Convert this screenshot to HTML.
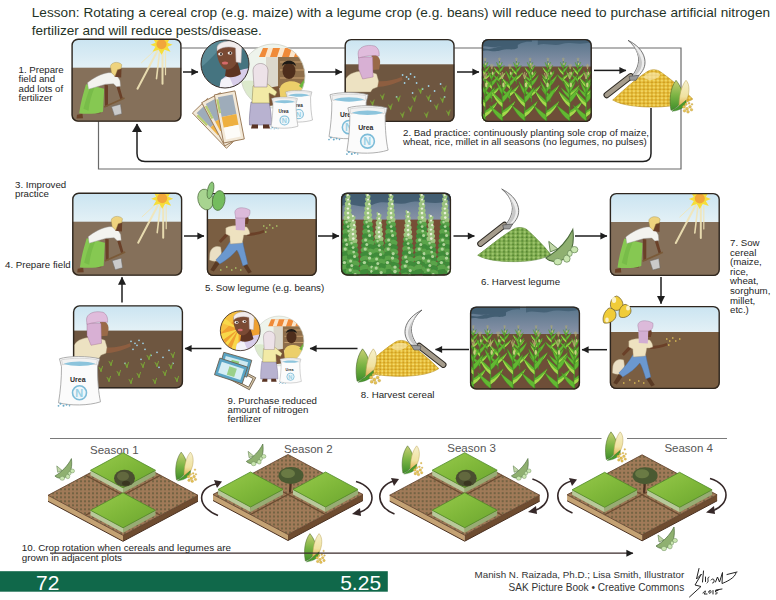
<!DOCTYPE html>
<html><head><meta charset="utf-8">
<style>
html,body{margin:0;padding:0;background:#fff;}
body{width:776px;height:600px;overflow:hidden;position:relative;}
svg{position:absolute;left:0;top:0;}
text{font-family:"Liberation Sans",sans-serif;}
</style></head>
<body>
<svg width="776" height="600" viewBox="0 0 776 600">
<defs>
  <linearGradient id="skyL" x1="0" y1="0" x2="0" y2="1"><stop offset="0" stop-color="#cae4f1"/><stop offset="1" stop-color="#e4f1f6"/></linearGradient>
  <linearGradient id="skyS" x1="0" y1="0" x2="0" y2="1"><stop offset="0" stop-color="#56748a"/><stop offset="1" stop-color="#8a93a8"/></linearGradient>
  <clipPath id="pc"><rect x="0" y="0" width="110" height="83" rx="6"/></clipPath>

  <!-- farmer hoeing with sun -->
  <symbol id="hoe" viewBox="0 0 110 83" width="110" height="83" overflow="visible">
    <g clip-path="url(#pc)">
      <rect width="110" height="30" fill="url(#skyL)"/>
      <rect y="29" width="110" height="54" fill="#85705a"/>
      <g stroke="#f2e6b8" stroke-linecap="round" opacity="0.9">
        <path d="M86 12 L66 50" stroke-width="2"/>
        <path d="M88 14 L85 40" stroke-width="1.6"/>
        <path d="M91 14 L91 45" stroke-width="2"/>
        <path d="M94 13 L94 36" stroke-width="1.2"/>
        <path d="M84 11 L70 24" stroke-width="1"/>
      </g>
      <polygon points="90,-4 93,1 99,-1 96,4 101,6 96,8 99,13 93,11 90,16 87,11 81,13 84,8 79,6 84,4 81,-1 87,1" fill="#f6de3a"/>
      <circle cx="90" cy="5.5" r="5" fill="#f2a63a"/>
      <!-- woman -->
      <path d="M5.5 76 L11 75 L11.5 79.5 L5 79.8Z M23.6 72 L29.3 71.7 L29 74.5 L24 74.5Z" fill="#6a4228"/>
      <path d="M14.5 45.5 L32.7 50 L31.5 73 C24 75.5 14 75.5 7.7 74.5 C9 64 12 54 14.5 45.5Z" fill="#86c852"/>
      <path d="M12 70 C14 62 16 55 19 48 L23 49 C20 56 18 63 17 72Z" fill="#6ab040" opacity="0.5"/>
      <path d="M33 46 L36.5 46.5 L36.5 67.5 L33.5 67.5Z M44.5 46.5 L47.5 46 L51.5 60 L49 61Z" fill="#6a4028"/>
      <path d="M16 44 C22 39 30 35 37 34 C42 33.5 46 36 48.5 42 L49 47.5 L45 48 L42 45 L34 45.5 L17 50.5 Z" fill="#f3f3ef" stroke="#9a9a9a" stroke-width="0.4"/>
      <path d="M45 29.8 L50 30 L49.7 38.9 L43 38Z" fill="#6a4028"/>
      <path d="M39 28 C39 23.5 47 22 50.3 26 L49.5 30 L46 31 L43.5 37.5 L40 34Z" fill="#eed37e" stroke="#a08a4a" stroke-width="0.4"/>
      <path d="M32.7 68.3 L53 59.3" stroke="#7a5a38" stroke-width="1.8"/>
      <path d="M40 68 L49 65.5 L50.3 75 L43 77 Z" fill="#cacaca" stroke="#6a6a6a" stroke-width="0.5"/>
    </g>
    <rect x="0.6" y="0.6" width="108.8" height="81.8" rx="6" fill="none" stroke="#2e261e" stroke-width="1.4"/>
  </symbol>

  <!-- maize field stormy -->
  <symbol id="mp" overflow="visible">
    <path d="M0 0 L0 -46" stroke="#4a8a2a" stroke-width="1.4"/>
    <path d="M0 -4 C-6 -8 -10 -14 -13 -20 C-8 -16 -3 -12 0 -10Z M0 -8 C6 -12 10 -18 13 -24 C8 -20 3 -16 0 -14Z M0 -18 C-5 -22 -9 -28 -11 -34 C-6 -30 -2 -26 0 -24Z M0 -22 C5 -26 8 -32 10 -38 C6 -34 2 -30 0 -28Z M0 -30 C-3 -34 -5 -40 -6 -44 C-3 -40 -1 -37 0 -35Z M0 -32 C3 -36 5 -40 6 -44 C3 -41 1 -38 0 -36Z" fill="#62b832" stroke="#3f8a22" stroke-width="0.4"/>
    <path d="M0 -8 C6 -12 10 -18 13 -24 C9 -18 5 -14 0 -12Z M0 -18 C-5 -22 -9 -28 -11 -34 C-7 -28 -4 -24 0 -22Z" fill="#a6d84c"/>
    <ellipse cx="1.2" cy="-40" rx="1.2" ry="2.4" fill="#c8d080"/>
    <path d="M0 -46 L-2 -52 M0 -46 L2 -52 M0 -46 L0 -53" stroke="#b8b070" stroke-width="0.8"/>
  </symbol>
  <symbol id="maize" viewBox="0 0 110 83" width="110" height="83" overflow="visible">
    <g clip-path="url(#pc)">
      <rect width="110" height="28" fill="url(#skyS)"/>
      <path d="M0 8 C4 6 8 9 14 8 C20 6 26 10 32 8 C38 5 42 2 50 3 L50 0 L0 0Z M0 12 C6 10 12 14 20 11 C26 9 30 12 36 9 L36 6 C28 8 20 6 12 9 C6 11 2 9 0 9Z" fill="#3c586c" opacity="0.85"/>
      <path d="M56 6 C64 3 72 8 80 5 C88 2 96 7 110 3 L110 0 L56 0Z" fill="#3c586c" opacity="0.7"/>
      <rect y="27.5" width="110" height="56" fill="#6e4e38"/>
      <use href="#mp" transform="translate(3.3,45) scale(0.5)"/>
      <use href="#mp" transform="translate(17.6,45) scale(0.5)"/>
      <use href="#mp" transform="translate(34.6,45) scale(0.5)"/>
      <use href="#mp" transform="translate(48.3,45) scale(0.5)"/>
      <use href="#mp" transform="translate(66.1,45) scale(0.5)"/>
      <use href="#mp" transform="translate(81.5,45) scale(0.5)"/>
      <use href="#mp" transform="translate(96.2,45) scale(0.5)"/>
      <use href="#mp" transform="translate(10.0,63) scale(0.72)"/>
      <use href="#mp" transform="translate(28.1,63) scale(0.72)"/>
      <use href="#mp" transform="translate(49.7,63) scale(0.72)"/>
      <use href="#mp" transform="translate(68.3,63) scale(0.72)"/>
      <use href="#mp" transform="translate(88.4,63) scale(0.72)"/>
      <use href="#mp" transform="translate(105.7,63) scale(0.72)"/>
      <use href="#mp" transform="translate(3.3,86) scale(1.0)"/>
      <use href="#mp" transform="translate(20.5,86) scale(1.0)"/>
      <use href="#mp" transform="translate(42.9,86) scale(1.0)"/>
      <use href="#mp" transform="translate(64.5,86) scale(1.0)"/>
      <use href="#mp" transform="translate(87.8,86) scale(1.0)"/>
      <use href="#mp" transform="translate(104.3,86) scale(1.0)"/>
    </g>
    <rect x="0.6" y="0.6" width="108.8" height="81.8" rx="6" fill="none" stroke="#2e261e" stroke-width="1.4"/>
  </symbol>

  <!-- fertilizer throwing -->
  <symbol id="fert" viewBox="0 0 110 83" width="110" height="83" overflow="visible">
    <g clip-path="url(#pc)">
      <rect width="110" height="26" fill="url(#skyL)"/>
      <rect y="25.3" width="110" height="58" fill="#6e5640"/>
      <g fill="#9fd0e4"><circle cx="58" cy="36" r="0.9"/><circle cx="62" cy="38" r="0.9"/><circle cx="66" cy="35" r="0.9"/><circle cx="60" cy="44" r="0.9"/><circle cx="72" cy="44" r="0.9"/><circle cx="78" cy="50" r="0.9"/><circle cx="68" cy="54" r="0.9"/><circle cx="84" cy="47" r="0.9"/><circle cx="90" cy="52" r="0.9"/><circle cx="96" cy="45" r="0.9"/><circle cx="52" cy="58" r="0.9"/><circle cx="86" cy="62" r="0.9"/><circle cx="100" cy="58" r="0.9"/><circle cx="64" cy="40" r="0.9"/><circle cx="70" cy="38" r="0.9"/></g>
      <path d="M38 60 L36 56 M38 60 L39.5 55 M38 60 v-3 M54 62 L52 58 M54 62 L55.5 57 M54 62 v-3 M70 62 L68 58 M70 62 L71.5 57 M70 62 v-3 M84 61 L82 57 M84 61 L85.5 56 M84 61 v-3 M98 63 L96 59 M98 63 L99.5 58 M98 63 v-3 M36 76 L34 72 M36 76 L37.5 71 M36 76 v-3 M58 78 L56 74 M58 78 L59.5 73 M58 78 v-3 M82 78 L80 74 M82 78 L83.5 73 M82 78 v-3 M104 76 L102 72 M104 76 L105.5 71 M104 76 v-3 M46 70 L44 66 M46 70 L47.5 65 M46 70 v-3 M92 70 L90 66 M92 70 L93.5 65 M92 70 v-3 M28 66 L26 62 M28 66 L29.5 61 M28 66 v-3 M66 72 L64 68 M66 72 L67.5 67 M66 72 v-3 M76 54 L74 50 M76 54 L77.5 49 M76 54 v-3 M100 52 L98 48 M100 52 L101.5 47 M100 52 v-3" stroke="#7aa836" stroke-width="0.9" stroke-linecap="round" fill="none"/>
      <path d="M32 42 C40 43 50 41 57 38 L58 41 C50 45 40 48 32 48Z" fill="#8e5e40"/>
      <path d="M1 40 C4 34 12 32 22 31.5 L32 35 L34 42 L33 48 L28 50 L26 53 L1 53Z" fill="#ede2c2" stroke="#a09070" stroke-width="0.4"/>
      <path d="M27 16 C31 14 36 18 35.5 24 L34.5 30.5 L27 31Z" fill="#9a6a48"/>
      <path d="M14 18 L28 18 L28.5 38 L18 40 L14 30Z" fill="#d8b0d4" stroke="#9a6a8a" stroke-width="0.4"/>
      <path d="M13.5 15 C13 8 22 5 30 7 C34 9 35 13 34.5 17 C28 16 20 17 14 19Z" fill="#e0bcdc" stroke="#9a6a8a" stroke-width="0.4"/>
    </g>
    <rect x="0.6" y="0.6" width="108.8" height="81.8" rx="6" fill="none" stroke="#2e261e" stroke-width="1.4"/>
  </symbol>

  <!-- sower walking -->
  <symbol id="sow" viewBox="0 0 110 83" width="110" height="83" overflow="visible">
    <g clip-path="url(#pc)">
      <rect width="110" height="27" fill="url(#skyL)"/>
      <rect y="26" width="110" height="57" fill="#7a5e42"/>
      <path d="M3 60 C4 55 9 52 14 54 L15.5 66 C12 69 6 69 2.5 67 Z" fill="#eadfc4" stroke="#9a8a6a" stroke-width="0.4"/>
      <path d="M9 68 L12.5 71 L7 78.5 L3.5 77Z M36 72 L40 71 L45 79 L41.5 80.5Z" fill="#5a3a24"/>
      <path d="M23 49 L36 49 C37 55 39 62 41 71 L36 73 C34 66 32 60 30 57 C26 62 20 67 13 71 L9 67 C14 62 19 56 23 49Z" fill="#6b98cf" stroke="#4a6a9a" stroke-width="0.4"/>
      <path d="M20 39 L12 48 L14 50 L22 42 Z" fill="#6a4028"/>
      <path d="M40 40 C46 40 52 39 57 37 L57.5 39.5 C52 41.5 46 43 40 43 Z" fill="#6a4028"/>
      <path d="M19 35 C22 33 28 32 33 33 L40 34 C42 36 43 39 43 41 L40 42 L37 42 L35.5 50 L23.5 51 L23 43 L19 41 Z" fill="#eee2c0" stroke="#a8987a" stroke-width="0.4"/>
      <path d="M37 21 C40 21 42 24 42 27 L41 31 L37 31 Z" fill="#6a4028"/>
      <path d="M28.5 24 L38.5 24 L38 37.5 L29 37 Z" fill="#d2aed2"/>
      <path d="M28 19.5 C28 14.5 36 13 43 17 C44 21 42 25 38 25 L29 25 Z" fill="#dcbada" stroke="#9a7a9a" stroke-width="0.4"/>
      <g style="fill:var(--seed,#b8e070)"><circle cx="57" cy="33" r="0.8"/><circle cx="60" cy="35" r="0.8"/><circle cx="63" cy="32" r="0.8"/><circle cx="66" cy="35" r="0.8"/><circle cx="70" cy="33" r="0.8"/><circle cx="59" cy="39" r="0.8"/><circle cx="20" cy="74" r="0.8"/><circle cx="25" cy="77" r="0.8"/><circle cx="29" cy="75" r="0.8"/><circle cx="34" cy="77" r="0.8"/><circle cx="14" cy="77" r="0.8"/></g>
    </g>
    </g>
    <rect x="0.6" y="0.6" width="108.8" height="81.8" rx="6" fill="none" stroke="#2e261e" stroke-width="1.4"/>
  </symbol>

  <!-- bean field -->
  <symbol id="bp" overflow="visible"><ellipse cx="-1.0" cy="0.0" rx="1.2" ry="2.8" fill="#9cc47e" transform="rotate(-20 -1.0 0.0)"/><ellipse cx="1.0" cy="2.0" rx="1.2" ry="2.8" fill="#9cc47e" transform="rotate(20 1.0 2.0)"/><circle cx="-0.1" cy="-0.5" r="1.1" fill="#e8f0d8"/><ellipse cx="-1.2" cy="4.5" rx="1.4" ry="2.8" fill="#9cc47e" transform="rotate(-20 -1.2 4.5)"/><ellipse cx="1.2" cy="6.5" rx="1.4" ry="2.8" fill="#9cc47e" transform="rotate(20 1.2 6.5)"/><circle cx="0.1" cy="4.0" r="1.1" fill="#e8f0d8"/><ellipse cx="-1.4" cy="9.0" rx="1.7" ry="2.8" fill="#9cc47e" transform="rotate(-20 -1.4 9.0)"/><ellipse cx="1.4" cy="11.0" rx="1.7" ry="2.8" fill="#9cc47e" transform="rotate(20 1.4 11.0)"/><circle cx="1.2" cy="8.5" r="1.2" fill="#e8f0d8"/><ellipse cx="-1.6" cy="13.5" rx="1.9" ry="2.8" fill="#9cc47e" transform="rotate(-20 -1.6 13.5)"/><ellipse cx="1.6" cy="15.5" rx="1.9" ry="2.8" fill="#9cc47e" transform="rotate(20 1.6 15.5)"/><circle cx="-0.1" cy="13.0" r="1.2" fill="#e8f0d8"/><ellipse cx="-1.8" cy="18.0" rx="2.1" ry="2.8" fill="#9cc47e" transform="rotate(-20 -1.8 18.0)"/><ellipse cx="1.8" cy="20.0" rx="2.1" ry="2.8" fill="#9cc47e" transform="rotate(20 1.8 20.0)"/><circle cx="0.0" cy="17.5" r="1.3" fill="#e8f0d8"/><ellipse cx="-2.0" cy="22.5" rx="2.4" ry="2.8" fill="#9cc47e" transform="rotate(-20 -2.0 22.5)"/><ellipse cx="2.0" cy="24.5" rx="2.4" ry="2.8" fill="#9cc47e" transform="rotate(20 2.0 24.5)"/><circle cx="0.3" cy="22.0" r="1.3" fill="#e8f0d8"/><ellipse cx="-2.2" cy="27.0" rx="2.6" ry="2.8" fill="#5aa44a" transform="rotate(-20 -2.2 27.0)"/><ellipse cx="2.2" cy="29.0" rx="2.6" ry="2.8" fill="#5aa44a" transform="rotate(20 2.2 29.0)"/><circle cx="-1.4" cy="26.5" r="1.3" fill="#b0d49a"/><ellipse cx="-2.4" cy="31.5" rx="2.9" ry="2.8" fill="#3f8c3a" transform="rotate(-20 -2.4 31.5)"/><ellipse cx="2.4" cy="33.5" rx="2.9" ry="2.8" fill="#3f8c3a" transform="rotate(20 2.4 33.5)"/><circle cx="0.1" cy="31.0" r="1.4" fill="#b0d49a"/><ellipse cx="-2.6" cy="36.0" rx="3.1" ry="2.8" fill="#5aa44a" transform="rotate(-20 -2.6 36.0)"/><ellipse cx="2.6" cy="38.0" rx="3.1" ry="2.8" fill="#5aa44a" transform="rotate(20 2.6 38.0)"/><circle cx="0.7" cy="35.5" r="1.4" fill="#b0d49a"/><ellipse cx="-2.8" cy="40.5" rx="3.3" ry="2.8" fill="#3f8c3a" transform="rotate(-20 -2.8 40.5)"/><ellipse cx="2.8" cy="42.5" rx="3.3" ry="2.8" fill="#3f8c3a" transform="rotate(20 2.8 42.5)"/><circle cx="1.6" cy="40.0" r="1.5" fill="#b0d49a"/><ellipse cx="-3.0" cy="45.0" rx="3.6" ry="2.8" fill="#5aa44a" transform="rotate(-20 -3.0 45.0)"/><ellipse cx="3.0" cy="47.0" rx="3.6" ry="2.8" fill="#5aa44a" transform="rotate(20 3.0 47.0)"/><circle cx="-2.4" cy="44.5" r="1.5" fill="#b0d49a"/><ellipse cx="-3.2" cy="49.5" rx="3.8" ry="2.8" fill="#3f8c3a" transform="rotate(-20 -3.2 49.5)"/><ellipse cx="3.2" cy="51.5" rx="3.8" ry="2.8" fill="#3f8c3a" transform="rotate(20 3.2 51.5)"/><circle cx="-1.2" cy="49.0" r="1.5" fill="#b0d49a"/><ellipse cx="-3.4" cy="54.0" rx="4.0" ry="2.8" fill="#5aa44a" transform="rotate(-20 -3.4 54.0)"/><ellipse cx="3.4" cy="56.0" rx="4.0" ry="2.8" fill="#5aa44a" transform="rotate(20 3.4 56.0)"/><circle cx="-2.8" cy="53.5" r="1.6" fill="#b0d49a"/><ellipse cx="-3.6" cy="58.5" rx="4.3" ry="2.8" fill="#3f8c3a" transform="rotate(-20 -3.6 58.5)"/><ellipse cx="3.6" cy="60.5" rx="4.3" ry="2.8" fill="#3f8c3a" transform="rotate(20 3.6 60.5)"/><circle cx="2.2" cy="58.0" r="1.6" fill="#b0d49a"/><ellipse cx="-3.8" cy="63.0" rx="4.5" ry="2.8" fill="#5aa44a" transform="rotate(-20 -3.8 63.0)"/><ellipse cx="3.8" cy="65.0" rx="4.5" ry="2.8" fill="#5aa44a" transform="rotate(20 3.8 65.0)"/><circle cx="1.5" cy="62.5" r="1.7" fill="#b0d49a"/><ellipse cx="-4.0" cy="67.5" rx="4.7" ry="2.8" fill="#3f8c3a" transform="rotate(-20 -4.0 67.5)"/><ellipse cx="4.0" cy="69.5" rx="4.7" ry="2.8" fill="#3f8c3a" transform="rotate(20 4.0 69.5)"/><circle cx="-3.6" cy="67.0" r="1.7" fill="#b0d49a"/><ellipse cx="-4.2" cy="72.0" rx="5.0" ry="2.8" fill="#5aa44a" transform="rotate(-20 -4.2 72.0)"/><ellipse cx="4.2" cy="74.0" rx="5.0" ry="2.8" fill="#5aa44a" transform="rotate(20 4.2 74.0)"/><circle cx="4.0" cy="71.5" r="1.7" fill="#b0d49a"/><ellipse cx="-4.3" cy="76.5" rx="5.2" ry="2.8" fill="#3f8c3a" transform="rotate(-20 -4.3 76.5)"/><ellipse cx="4.3" cy="78.5" rx="5.2" ry="2.8" fill="#3f8c3a" transform="rotate(20 4.3 78.5)"/><circle cx="4.0" cy="76.0" r="1.8" fill="#b0d49a"/></symbol>
  <symbol id="beans" viewBox="0 0 110 83" width="110" height="83" overflow="visible">
    <g clip-path="url(#pc)">
      <rect width="110" height="28" fill="url(#skyS)"/>
      <path d="M0 14 C10 8 20 18 32 12 C44 6 56 14 68 10 C80 6 90 14 110 8 L110 0 L0 0Z" fill="#3c586c" opacity="0.8"/>
      <rect y="27" width="110" height="56" fill="#774e36"/>
      <use href="#bp" x="7" y="3"/>
      <use href="#bp" x="27" y="3"/>
      <use href="#bp" x="50" y="3"/>
      <use href="#bp" x="81" y="3"/>
      <use href="#bp" x="104" y="3"/>
      <use href="#bp" x="12" y="24"/>
      <use href="#bp" x="38" y="22"/>
      <use href="#bp" x="67" y="20"/>
      <use href="#bp" x="90" y="24"/>
    </g>
    <rect x="0.6" y="0.6" width="108.8" height="81.8" rx="6" fill="none" stroke="#2e261e" stroke-width="1.4"/>
  </symbol>

  <pattern id="dots" width="4" height="4" patternUnits="userSpaceOnUse"><circle cx="2" cy="2" r="0.9" fill="#5e5838"/></pattern>
  <linearGradient id="grn" x1="0" y1="0" x2="1" y2="1"><stop offset="0" stop-color="#98ca4c"/><stop offset="0.5" stop-color="#80b83a"/><stop offset="1" stop-color="#6aa42e"/></linearGradient>

  <symbol id="bag" viewBox="0 0 42 52" width="42" height="52" overflow="visible">
    <path d="M1 4 C10 1 30 1 41 4 L39 12 C39 26 40 38 42 47 C30 51 12 51 0 48 C2 36 3 24 3 12 Z" fill="#fbfbfb" stroke="#9a9a9a" stroke-width="0.8"/>
    <path d="M3 5 C12 3 30 3 39 5 L38 10 C28 8 14 8 4 10Z" fill="#f2f2f2" stroke="#aaa" stroke-width="0.4"/>
    <path d="M5 9 C14 6 28 6 37 9 C28 12 14 12 5 9Z" fill="#8cc4dc"/>
    <text x="11.5" y="27" font-size="7" font-weight="bold" fill="#2a2a2a">Urea</text>
    <circle cx="21" cy="38" r="7" fill="#eef6fa" stroke="#7cbcd8" stroke-width="1.6"/>
    <text x="16.8" y="42" font-size="11" font-weight="bold" fill="#9ad0e4">N</text>
    <g fill="#6aaac8"><circle cx="2" cy="49" r="1"/><circle cx="5" cy="51" r="1"/><circle cx="8" cy="50" r="0.9"/><circle cx="0" cy="51" r="0.9"/><circle cx="11" cy="51" r="0.8"/></g>
  </symbol>
  <symbol id="sickle" viewBox="0 0 45 58" width="45" height="58" overflow="visible">
    <path d="M3.7 54.7 L27.7 36" stroke="#2e2a24" stroke-width="6.4" stroke-linecap="round"/>
    <path d="M3.7 54.7 L27.7 36" stroke="#a59c8c" stroke-width="4.4" stroke-linecap="round"/>
    <path d="M25 0 C33 4 40 10 41.7 18.7 C43 26 40 31 35 36 L29 36 C33 30 35.5 26 35.7 18.7 C35 11 31 5 25 0Z" fill="#ededed" stroke="#555" stroke-width="0.8"/>
    <path d="M28 3 C34 9 38 15 39 22 C39 28 36 32 33 35 L30 35 C34 30 36 26 36 19 C35 12 32 7 28 3Z" fill="#c8c8c8"/>
    <path d="M26 36 L36 35 L33 40 L27 40Z" fill="#9a9a9a" stroke="#444" stroke-width="0.6"/>
  </symbol>
  <linearGradient id="husk" x1="0" y1="0" x2="0" y2="1"><stop offset="0" stop-color="#c9cf74"/><stop offset="0.5" stop-color="#7cb444"/><stop offset="1" stop-color="#3e8e2a"/></linearGradient>
  <linearGradient id="cob" x1="0" y1="0" x2="0" y2="1"><stop offset="0" stop-color="#f6f0cc"/><stop offset="0.6" stop-color="#f0e2a0"/><stop offset="1" stop-color="#e0a848"/></linearGradient>
  <symbol id="corn" viewBox="0 0 26 34" width="26" height="34" overflow="visible">
    <path d="M7 2 C12 8 15 16 13 23 C10 27 6 31 2 32 C0 22 1 10 7 2Z" fill="url(#husk)" stroke="#4a6a2a" stroke-width="0.6"/>
    <path d="M17 2 C21 6 21 15 17 23 L10 29 C10 18 12 8 17 2Z" fill="url(#cob)" stroke="#b8a050" stroke-width="0.5"/>
    <path d="M11 27 L17 22 C18 28 12 32 3 33 C6 30 9 29 11 27Z" fill="#4a9a2e" stroke="#2e6a1e" stroke-width="0.4"/>
    <g fill="#e4c254" stroke="#b89030" stroke-width="0.3"><circle cx="15" cy="28.5" r="1.5"/><circle cx="18" cy="30.5" r="1.5"/><circle cx="21" cy="28.5" r="1.4"/><circle cx="15.5" cy="32.5" r="1.4"/><circle cx="19" cy="33.5" r="1.4"/><circle cx="22.5" cy="31.5" r="1.3"/><circle cx="20" cy="25" r="1"/><circle cx="22" cy="21" r="0.9"/><circle cx="23" cy="26" r="0.9"/><circle cx="17" cy="26" r="1.2"/></g>
  </symbol>
  <symbol id="bean" viewBox="0 0 22 24" width="22" height="24" overflow="visible">
    <path d="M2 8 L3 15 L8 13Z" fill="#c2d8a8" stroke="#5a7a48" stroke-width="0.6"/>
    <path d="M0 19 C7 15 14 8 18 0 C19 8 18 16 12 20 C8 22 3 22 0 19Z" fill="#8fb070" stroke="#4a6a3a" stroke-width="0.7"/>
    <g fill="#c9e6b0" stroke="#6a8a58" stroke-width="0.5"><ellipse cx="8" cy="21.5" rx="2.6" ry="2.2"/><ellipse cx="14" cy="19.5" rx="2.2" ry="2.4"/><ellipse cx="19" cy="13.5" rx="2.4" ry="2.1"/><ellipse cx="16" cy="16" rx="1.6" ry="2"/></g>
  </symbol>
  <pattern id="kern" width="4" height="3.5" patternUnits="userSpaceOnUse"><circle cx="1.2" cy="1.2" r="1" fill="#f8e27a"/><circle cx="3.2" cy="2.9" r="0.9" fill="#c8961e"/></pattern>
  <pattern id="leg" width="5" height="4" patternUnits="userSpaceOnUse"><circle cx="1.5" cy="1.5" r="1.2" fill="#a6cc76"/><circle cx="3.8" cy="3.2" r="1" fill="#4e7e2e"/></pattern>
  <symbol id="pileY" viewBox="0 0 80 38" width="80" height="38" overflow="visible">
    <path d="M0 31 C8 24 20 12 34 3 C38 0 44 0 48 3 C58 10 70 20 80 30 C70 37 50 38 40 38 C28 38 10 37 0 31Z" fill="#e4b934" stroke="#b08a1e" stroke-width="0.6"/>
    <path d="M0 31 C8 24 20 12 34 3 C38 0 44 0 48 3 C58 10 70 20 80 30 C70 37 50 38 40 38 C28 38 10 37 0 31Z" fill="url(#kern)"/>
    <path d="M30 8 C36 2 44 2 48 6 C44 10 38 14 30 8Z" fill="#f6e6a8" opacity="0.7"/>
  </symbol>
  <symbol id="pileG" viewBox="0 0 80 38" width="80" height="38" overflow="visible">
    <path d="M0 31 C10 24 26 10 40 2 C44 0 50 0 54 3 C62 10 72 20 80 30 C70 37 50 38 40 38 C28 38 10 37 0 31Z" fill="#7aa84a" stroke="#4f7a2c" stroke-width="0.6"/>
    <path d="M0 31 C10 24 26 10 40 2 C44 0 50 0 54 3 C62 10 72 20 80 30 C70 37 50 38 40 38 C28 38 10 37 0 31Z" fill="url(#leg)"/>
  </symbol>

  <symbol id="moneyB" viewBox="0 0 40 34" width="40" height="34" overflow="visible">
    <g stroke="#6a5a48" stroke-width="0.8">
      <g transform="translate(14,14) rotate(28)"><rect x="0" y="0" width="26" height="14" fill="#d8c8a8"/><rect x="2" y="2" width="22" height="10" fill="#fff"/></g>
      <g transform="translate(4,0) rotate(16)"><rect x="0" y="0" width="30" height="18" fill="#5aa4c4"/><rect x="3" y="3" width="24" height="12" fill="#cde8f0" stroke="none"/><rect x="10" y="5" width="8" height="9" fill="#8ccc7a" stroke="none"/></g>
      <g transform="translate(0,6) rotate(18)"><rect x="0" y="0" width="30" height="18" fill="#5aa4c4"/><rect x="3" y="3" width="24" height="12" fill="#d6eef4" stroke="none"/><rect x="12" y="5" width="8" height="9" fill="#9ad08a" stroke="none"/></g>
    </g>
  </symbol>
  <clipPath id="cc"><circle cx="0" cy="0" r="24"/></clipPath>
  <symbol id="portrait" viewBox="-25 -25 50 50" width="50" height="50" overflow="visible">
    <g clip-path="url(#cc)">
      <rect x="-25" y="-25" width="50" height="50" style="fill:var(--bg,#457480)"/>
      <path d="M-25 -25 L6 -25 C-6 -16 -14 -4 -25 4Z" style="fill:var(--bg2,#5a8a96)"/>
      <g style="opacity:var(--rays,0)" fill="#f8d84a"><path d="M-2 -2 L-25 -20 L-25 -10Z M-2 -2 L-25 4 L-25 14Z M-2 -2 L-12 25 L-2 25Z M-2 -2 L-25 22 L-20 25Z M-2 -2 L18 -25 L25 -25 L25 -18Z"/></g>
      <path d="M-4 16 C2 10 12 6 26 4 L26 26 L-6 26Z" fill="#d8cdea"/>
      <path d="M-4 16 L4 12 L10 26 L-6 26Z" fill="#f4f2f8"/>
      <path d="M2 -2 L12 -4 L16 10 C10 14 4 14 0 12Z" fill="#5e3422"/>
      <path d="M-8 -16 C-6 -22 10 -22 12 -16 L12 -2 C8 6 2 7 -2 4 C-6 0 -9 -8 -8 -16Z" fill="#7a4a34"/>
      <ellipse cx="-4.5" cy="-10" rx="2.4" ry="1.6" fill="#f4f0ec"/><ellipse cx="5" cy="-11" rx="2.4" ry="1.6" fill="#f4f0ec"/>
      <circle cx="-4" cy="-10" r="1" fill="#201410"/><circle cx="5.5" cy="-11" r="1" fill="#201410"/>
      <ellipse cx="0" cy="-1" rx="3" ry="1.5" fill="#d46a6a"/>
      <path d="M-8 -17 C-6 -24 12 -25 17 -19 L16 -1 L11 -2 L10.5 -16 C4 -18 -4 -17 -8 -13Z" fill="#f2ecec" stroke="#a89a9a" stroke-width="0.5"/>
    </g>
    <circle cx="0" cy="0" r="24" fill="none" stroke="#3a2e2a" stroke-width="1"/>
  </symbol>
  <clipPath id="cs"><circle cx="0" cy="0" r="32"/></clipPath>
  <symbol id="shop" viewBox="-34 -34 68 90" width="68" height="90" overflow="visible">
    <g clip-path="url(#cs)">
      <rect x="-34" y="-34" width="68" height="68" fill="#eef4ec"/>
      <path d="M-34 6 C-22 2 -12 6 -4 12 L-4 34 L-34 34Z" fill="#dceacc"/>
      <rect x="-7" y="-20" width="41" height="50" fill="#dcd8cc"/>
      <rect x="5" y="-19" width="30" height="31" fill="#8e6e4a"/>
      <path d="M7 -14 H34 M7 -6 H34 M7 2 H34" stroke="#c8a070" stroke-width="1.2"/>
      <path d="M-14 -19 L-10 -28 L30 -28 L30 -19Z" fill="#f08a38"/>
      <path d="M-8 -19 L-5 -28 L0 -28 L-3 -19Z M4 -19 L7 -28 L12 -28 L9 -19Z M16 -19 L19 -28 L24 -28 L21 -19Z" fill="#fbe6cc"/>
      <path d="M7 12 C9 4 24 3 29 10 L34 34 L4 34Z" fill="#eccf6a"/>
      <ellipse cx="16" cy="-5" rx="6.5" ry="8" fill="#4e2e1c"/>
      <path d="M9 -10 C10 -17 22 -17 23 -10 C20 -13 12 -13 9 -10Z" fill="#1e1a16"/>
      <path d="M26 10 L34 0 L34 16Z" fill="#6ab83a"/>
      <path d="M-6 12 L6 10 L8 28 L-4 30Z" fill="#7a5436"/>
    </g>
    <circle cx="0" cy="0" r="32" fill="none" stroke="#cfd2c8" stroke-width="0.8"/>
    <!-- standing woman -->
    <path d="M-22 26 C-23 34 -24 42 -23.5 49 L-1.5 49 C-1.5 42 -2 34 -4 26Z" fill="#b8b2d0" stroke="#6a6488" stroke-width="0.5"/>
    <path d="M-20 10 C-18 7 -8 6 -4 9 L4 16 L2 20 L-4 17 L-3.5 27 L-21 27Z" fill="#f2eaa6" stroke="#8a8050" stroke-width="0.5"/>
    <path d="M-20 -5 C-20 -15 -5 -15 -5 -5 L-6 11 L-19 11Z" fill="#ede2e8" stroke="#8a7a80" stroke-width="0.5"/>
    <path d="M-21 48.5 L-15 48.5 L-15 52.5 L-22 52.5Z M-10 48.5 L-4 48.5 L-3 52.5 L-10 52.5Z" fill="#5a3424"/>
  </symbol>

  <marker id="ah" refX="6.6" refY="3.5" markerWidth="7" markerHeight="7" markerUnits="userSpaceOnUse" orient="auto" overflow="visible"><path d="M0 0 L7 3.5 L0 7Z" fill="#1e1e1e"/></marker>
  <marker id="ahb" refX="8" refY="5" markerWidth="8.5" markerHeight="10" markerUnits="userSpaceOnUse" orient="auto" overflow="visible"><path d="M0 0 L8.5 5 L0 10Z" fill="#1e1e1e"/></marker>
  <marker id="ahv" refX="7.6" refY="4" markerWidth="8" markerHeight="8" markerUnits="userSpaceOnUse" orient="auto" overflow="visible"><path d="M0 0 L8 4 L0 8Z" fill="#1e1e1e"/></marker>
</defs>

<!-- Title -->
<text x="31.7" y="17.4" font-size="13.6" fill="#1f3326" textLength="738.4" lengthAdjust="spacing">Lesson: Rotating a cereal crop (e.g. maize) with a legume crop (e.g. beans) will reduce need to purchase artificial nitrogen</text>
<text x="31.7" y="35.2" font-size="13.6" fill="#1f3326" textLength="230.2" lengthAdjust="spacing">fertilizer and will reduce pests/disease.</text>

<!-- ROW 1 loop lines -->
<path d="M98.5 121 V169 H681 V48 H181" fill="none" stroke="#6a6a6a" stroke-width="1.2"/>
<path d="M651 108 V153.5 Q651 161.5 643 161.5 H145 Q137 161.5 137 153.5 V124" fill="none" stroke="#1e1e1e" stroke-width="1.5" marker-end="url(#ahb)"/>

<use href="#hoe" x="71.5" y="38.7"/>
<text font-size="9.7" fill="#1e1e1e"><tspan x="18.5" y="73">1. Prepare</tspan><tspan x="18.5" y="82.4">field and</tspan><tspan x="18.5" y="91.7">add lots of</tspan><tspan x="18.5" y="101">fertilizer</tspan></text>

<path d="M183 72 H198" stroke="#1e1e1e" stroke-width="1.5" marker-end="url(#ah)"/>
<path d="M308 72 H342" stroke="#1e1e1e" stroke-width="1.5" marker-end="url(#ah)"/>
<path d="M457 72 H479" stroke="#1e1e1e" stroke-width="1.5" marker-end="url(#ah)"/>
<path d="M594 70.4 H626" stroke="#1e1e1e" stroke-width="1.5" marker-end="url(#ah)"/>

<use href="#fert" x="344.6" y="39"/>
<use href="#maize" x="481.8" y="39"/>

<text font-size="9.75" fill="#1e1e1e"><tspan x="403" y="136">2. Bad practice: continuously planting sole crop of maize,</tspan><tspan x="403" y="145.4">wheat, rice, millet in all seasons (no legumes, no pulses)</tspan></text>

<!-- ROW 2 -->
<use href="#hoe" x="72.2" y="192.7"/>
<use href="#sow" x="206.8" y="193"/>
<use href="#beans" x="341" y="192.6"/>
<use href="#hoe" x="609.8" y="193"/>

<text font-size="9.7" fill="#1e1e1e"><tspan x="15" y="187.5">3. Improved</tspan><tspan x="15" y="197">practice</tspan></text>
<text font-size="9.7" fill="#1e1e1e" x="5" y="268.3">4. Prepare field</text>
<text font-size="9.75" fill="#1e1e1e" x="205" y="291">5. Sow legume (e.g. beans)</text>
<text font-size="9.75" fill="#1e1e1e" x="481" y="284.5">6. Harvest legume</text>
<text font-size="9.7" fill="#1e1e1e"><tspan x="730" y="246">7. Sow</tspan><tspan x="730" y="255.6">cereal</tspan><tspan x="730" y="265.2">(maize,</tspan><tspan x="730" y="274.8">rice,</tspan><tspan x="730" y="284.4">wheat,</tspan><tspan x="730" y="294">sorghum,</tspan><tspan x="730" y="303.6">millet,</tspan><tspan x="730" y="313.2">etc.)</tspan></text>

<path d="M184 236 H204" stroke="#1e1e1e" stroke-width="1.5" marker-end="url(#ah)"/>
<path d="M318 236 H339" stroke="#1e1e1e" stroke-width="1.5" marker-end="url(#ah)"/>
<path d="M453.5 236 H474.4" stroke="#1e1e1e" stroke-width="1.5" marker-end="url(#ah)"/>
<path d="M575 236 H607" stroke="#1e1e1e" stroke-width="1.5" marker-end="url(#ah)"/>
<path d="M661 277 V303.7" stroke="#1e1e1e" stroke-width="1.5" marker-end="url(#ahv)"/>
<path d="M122 302.5 V277.2" stroke="#1e1e1e" stroke-width="1.5" marker-end="url(#ahv)"/>

<!-- ROW 3 -->
<use href="#fert" x="73" y="305.3"/>
<use href="#maize" x="470" y="306.5"/>
<use href="#sow" x="609.8" y="306" style="--seed:#f2d45a"/>

<path d="M607 349.7 H582" stroke="#1e1e1e" stroke-width="1.5" marker-end="url(#ah)"/>
<path d="M469 349.6 H435.5" stroke="#1e1e1e" stroke-width="1.5" marker-end="url(#ah)"/>
<path d="M357.5 348.6 H310" stroke="#1e1e1e" stroke-width="1.5" marker-end="url(#ah)"/>
<path d="M221.4 348.6 H185" stroke="#1e1e1e" stroke-width="1.5" marker-end="url(#ah)"/>

<text font-size="9.75" fill="#1e1e1e" x="360.8" y="398.3">8. Harvest cereal</text>
<text font-size="9.7" fill="#1e1e1e"><tspan x="227.6" y="403.5">9. Purchase reduced</tspan><tspan x="227.6" y="413">amount of nitrogen</tspan><tspan x="227.6" y="422.2">fertilizer</tspan></text>


<!-- row1 objects -->
<use href="#shop" x="239" y="42" width="68" height="90"/>
<use href="#portrait" x="200" y="39" width="50" height="50"/>
<g><g transform="translate(234,141) rotate(-44)"><rect x="-10.5" y="-49" width="21" height="49" fill="#f3e9d8" stroke="#9a7a58" stroke-width="0.9"/><rect x="-7.5" y="-46" width="15" height="20" fill="#9eacba"/><rect x="-7.5" y="-26" width="15" height="11" fill="#eeb040"/><rect x="-7.5" y="-15" width="15" height="12" fill="#fdfcf8"/><rect x="-9.5" y="-44" width="2.2" height="14" fill="#b8cc70"/></g><g transform="translate(234,141) rotate(-28)"><rect x="-10.5" y="-49" width="21" height="49" fill="#f3e9d8" stroke="#9a7a58" stroke-width="0.9"/><rect x="-7.5" y="-46" width="15" height="20" fill="#9eacba"/><rect x="-7.5" y="-26" width="15" height="11" fill="#eeb040"/><rect x="-7.5" y="-15" width="15" height="12" fill="#fdfcf8"/><rect x="-9.5" y="-44" width="2.2" height="14" fill="#b8cc70"/></g><g transform="translate(234,141) rotate(-11)"><rect x="-10.5" y="-49" width="21" height="49" fill="#f3e9d8" stroke="#9a7a58" stroke-width="0.9"/><rect x="-7.5" y="-46" width="15" height="20" fill="#9eacba"/><rect x="-7.5" y="-26" width="15" height="11" fill="#eeb040"/><rect x="-7.5" y="-15" width="15" height="12" fill="#fdfcf8"/><rect x="-9.5" y="-44" width="2.2" height="14" fill="#b8cc70"/></g></g>
<use href="#bag" x="284.8" y="89.3" width="28" height="34"/>
<use href="#bag" x="271" y="95.7" width="27" height="34"/>
<use href="#bag" x="329" y="90.7" width="40" height="50"/>
<use href="#bag" x="346" y="104" width="43" height="51"/>
<use href="#pileY" x="612.7" y="69" width="80" height="38"/>
<use href="#sickle" x="603" y="40.3" width="45" height="58"/>
<use href="#corn" x="669" y="76.3" width="26" height="38"/>
<!-- row2 objects -->
<use href="#pileG" x="477.7" y="225.3" width="73" height="38"/>
<use href="#sickle" x="476.7" y="189" width="45" height="58"/>
<use href="#bean" x="545.8" y="228.4" width="33" height="38"/>
<!-- row3 objects -->
<use href="#bag" x="56.5" y="354.8" width="46" height="52"/>
<use href="#shop" x="252.5" y="314.5" width="53" height="70"/>
<use href="#portrait" x="219.5" y="310" width="41.5" height="41.5" style="--bg:#f0a030;--bg2:#f6c040;--rays:1"/>
<use href="#moneyB" x="219.8" y="352.3" width="39" height="33"/>
<use href="#bag" x="277" y="357" width="27" height="27"/>
<use href="#pileY" x="361.8" y="338.5" width="77" height="39"/>
<use href="#sickle" transform="translate(447,310) scale(-1,1)" width="45" height="58"/>
<use href="#corn" x="355" y="345" width="28" height="40"/>
<!-- bottom icons -->
<use href="#bean" x="54" y="458.6" width="22" height="22"/>
<use href="#corn" x="174.7" y="450" width="24" height="32"/>
<use href="#bean" x="245.4" y="444" width="22" height="22"/>
<use href="#corn" x="303.4" y="531.8" width="24" height="31"/>
<use href="#corn" x="401" y="444" width="24" height="31"/>
<use href="#bean" x="510.5" y="458.5" width="22" height="22"/>
<use href="#corn" x="604.5" y="429.7" width="24" height="32"/>
<use href="#bean" x="656" y="527" width="22" height="24"/>


<!-- bean leaves icon -->
<g stroke="#4a6a3a" stroke-width="0.7">
<ellipse cx="205.5" cy="199.5" rx="7.5" ry="10.5" transform="rotate(-15 205.5 199.5)" fill="#a8d490"/>
<ellipse cx="210.5" cy="190.3" rx="3" ry="8.5" transform="rotate(12 210.5 190.3)" fill="#8cc87a"/>
<ellipse cx="218.7" cy="200.5" rx="6.2" ry="10" transform="rotate(10 218.7 200.5)" fill="#74bc5e"/>
</g>
<!-- corn seeds icon -->
<g stroke="#6a5a2a" stroke-width="0.7" fill="#f0cc38">
<path d="M616.5 296 C610 298 609 306 612 309 C616 312 623 310 623 305 C623 301 620 297 616.5 296Z"/>
<path d="M609 308 C603 312 602 320 604 323 C610 324 616 320 616 315 C616 311 613 308 609 308Z"/>
<path d="M625 304.3 C619 306 618 314 620 317 C625 319 631 315 631 311 C631 307 628 305 625 304.3Z"/>
</g>
<g fill="#faf2c8"><ellipse cx="614" cy="300" rx="2.2" ry="3"/><ellipse cx="607" cy="320" rx="1.8" ry="2.4"/><ellipse cx="628" cy="308" rx="2" ry="2.6"/></g>
<!-- signature -->
<g fill="none" stroke="#222" stroke-width="1" stroke-linecap="round" stroke-linejoin="round">
<path d="M699 568.5 L696.5 579 L701.5 574 L695 585 L701 586.5 L689.5 597"/>
<path d="M703.5 571 L702.5 582 M705.5 577 L705.5 581.5 M709 577 C706 578 710 581 707 583 M711 580 C715 576 715 584 712.5 583 M715.5 582 L717.5 577 L719.5 582 L722.5 572.5 L722 583.5 C726 582 735 578 736 573 M727 574.5 L737 572"/>
<path d="M703 593 C705 590 707 590 704 594 L707 594 M709 591.5 C708 594 711 594 711 591.5 C711 590 709 590 709 591.5 M713 590.5 L713 594 M718 590.5 L715.5 590.5 L715.5 592 C718 592 718 594 715.5 594 M716 590 L722 589"/>
</g>

<!-- BOTTOM -->
<path d="M50 438.5 H601.5 M627 438.5 H727" stroke="#7a7a7a" stroke-width="1.1"/>
<text font-size="11.5" fill="#555" x="90" y="453.6">Season 1</text>
<text font-size="11.5" fill="#555" x="284" y="453.4">Season 2</text>
<text font-size="11.5" fill="#555" x="447.3" y="452.3">Season 3</text>
<text font-size="11.5" fill="#555" x="664.4" y="452">Season 4</text>

<g transform="translate(123,495.3)">
<polygon points="-75,0 0,40 0,46 -75,6" fill="#c4a274"/>
<polygon points="0,40 75,0 75,6 0,46" fill="#6e4c30"/>
<path d="M-75 6 L0 46 L75 6" fill="none" stroke="#4a3020" stroke-width="1"/>
<polygon points="-75,0 0,-40 75,0 0,40" fill="#a07a58" stroke="#5a3a24" stroke-width="0.8"/>
<polygon points="-75,0 0,-40 75,0 0,40" fill="url(#dots)"/>
<path d="M-37.5 -20 L37.5 20 M37.5 -20 L-37.5 20" stroke="#6a4a30" stroke-width="1.2"/>
<polygon points="-32.5,-25 0,-7.5 0,-2.5 -32.5,-20" fill="#b8c89a"/>
<polygon points="0,-7.5 32.5,-25 32.5,-20 0,-2.5" fill="#98ac74"/>
<polygon points="-32.5,-25 0,-42.5 32.5,-25 0,-7.5" fill="url(#grn)" stroke="#4f8a28" stroke-width="0.8"/>
<polygon points="-32.5,15 0,32.5 0,37.5 -32.5,20" fill="#b8c89a"/>
<polygon points="0,32.5 32.5,15 32.5,20 0,37.5" fill="#98ac74"/>
<polygon points="-32.5,15 0,-2.5 32.5,15 0,32.5" fill="url(#grn)" stroke="#4f8a28" stroke-width="0.8"/>
<ellipse cx="1.5" cy="-17" rx="10.5" ry="8.5" fill="#4a4e30"/>
<ellipse cx="0" cy="-19" rx="6" ry="4.5" fill="#62683e"/>
<ellipse cx="3" cy="-12" rx="4" ry="2.5" fill="#3a3620"/>
</g>
<g transform="translate(288,494.5)">
<polygon points="-75,0 0,40 0,46 -75,6" fill="#c4a274"/>
<polygon points="0,40 75,0 75,6 0,46" fill="#6e4c30"/>
<path d="M-75 6 L0 46 L75 6" fill="none" stroke="#4a3020" stroke-width="1"/>
<polygon points="-75,0 0,-40 75,0 0,40" fill="#a07a58" stroke="#5a3a24" stroke-width="0.8"/>
<polygon points="-75,0 0,-40 75,0 0,40" fill="url(#dots)"/>
<path d="M-37.5 -20 L37.5 20 M37.5 -20 L-37.5 20" stroke="#6a4a30" stroke-width="1.2"/>
<polygon points="-70.0,-5 -37.5,12.5 -37.5,17.5 -70.0,0" fill="#b8c89a"/>
<polygon points="-37.5,12.5 -5.0,-5 -5.0,0 -37.5,17.5" fill="#98ac74"/>
<polygon points="-70.0,-5 -37.5,-22.5 -5.0,-5 -37.5,12.5" fill="url(#grn)" stroke="#4f8a28" stroke-width="0.8"/>
<polygon points="5.0,-5 37.5,12.5 37.5,17.5 5.0,0" fill="#b8c89a"/>
<polygon points="37.5,12.5 70.0,-5 70.0,0 37.5,17.5" fill="#98ac74"/>
<polygon points="5.0,-5 37.5,-22.5 70.0,-5 37.5,12.5" fill="url(#grn)" stroke="#4f8a28" stroke-width="0.8"/>
<path d="M3 -16 L2 -2" stroke="#4a3020" stroke-width="2.2"/>
<ellipse cx="3" cy="-19" rx="12.5" ry="8.5" fill="#4a5a32"/>
<ellipse cx="0" cy="-21" rx="7" ry="4.5" fill="#6a7a44"/>
</g>
<g transform="translate(464.7,495.2)">
<polygon points="-75,0 0,40 0,46 -75,6" fill="#c4a274"/>
<polygon points="0,40 75,0 75,6 0,46" fill="#6e4c30"/>
<path d="M-75 6 L0 46 L75 6" fill="none" stroke="#4a3020" stroke-width="1"/>
<polygon points="-75,0 0,-40 75,0 0,40" fill="#a07a58" stroke="#5a3a24" stroke-width="0.8"/>
<polygon points="-75,0 0,-40 75,0 0,40" fill="url(#dots)"/>
<path d="M-37.5 -20 L37.5 20 M37.5 -20 L-37.5 20" stroke="#6a4a30" stroke-width="1.2"/>
<polygon points="-32.5,-25 0,-7.5 0,-2.5 -32.5,-20" fill="#b8c89a"/>
<polygon points="0,-7.5 32.5,-25 32.5,-20 0,-2.5" fill="#98ac74"/>
<polygon points="-32.5,-25 0,-42.5 32.5,-25 0,-7.5" fill="url(#grn)" stroke="#4f8a28" stroke-width="0.8"/>
<polygon points="-32.5,15 0,32.5 0,37.5 -32.5,20" fill="#b8c89a"/>
<polygon points="0,32.5 32.5,15 32.5,20 0,37.5" fill="#98ac74"/>
<polygon points="-32.5,15 0,-2.5 32.5,15 0,32.5" fill="url(#grn)" stroke="#4f8a28" stroke-width="0.8"/>
<ellipse cx="1.5" cy="-17" rx="10.5" ry="8.5" fill="#4a4e30"/>
<ellipse cx="0" cy="-19" rx="6" ry="4.5" fill="#62683e"/>
<ellipse cx="3" cy="-12" rx="4" ry="2.5" fill="#3a3620"/>
</g>
<g transform="translate(642.1,494.8)">
<polygon points="-75,0 0,40 0,46 -75,6" fill="#c4a274"/>
<polygon points="0,40 75,0 75,6 0,46" fill="#6e4c30"/>
<path d="M-75 6 L0 46 L75 6" fill="none" stroke="#4a3020" stroke-width="1"/>
<polygon points="-75,0 0,-40 75,0 0,40" fill="#a07a58" stroke="#5a3a24" stroke-width="0.8"/>
<polygon points="-75,0 0,-40 75,0 0,40" fill="url(#dots)"/>
<path d="M-37.5 -20 L37.5 20 M37.5 -20 L-37.5 20" stroke="#6a4a30" stroke-width="1.2"/>
<polygon points="-70.0,-5 -37.5,12.5 -37.5,17.5 -70.0,0" fill="#b8c89a"/>
<polygon points="-37.5,12.5 -5.0,-5 -5.0,0 -37.5,17.5" fill="#98ac74"/>
<polygon points="-70.0,-5 -37.5,-22.5 -5.0,-5 -37.5,12.5" fill="url(#grn)" stroke="#4f8a28" stroke-width="0.8"/>
<polygon points="5.0,-5 37.5,12.5 37.5,17.5 5.0,0" fill="#b8c89a"/>
<polygon points="37.5,12.5 70.0,-5 70.0,0 37.5,17.5" fill="#98ac74"/>
<polygon points="5.0,-5 37.5,-22.5 70.0,-5 37.5,12.5" fill="url(#grn)" stroke="#4f8a28" stroke-width="0.8"/>
<path d="M3 -16 L2 -2" stroke="#4a3020" stroke-width="2.2"/>
<ellipse cx="3" cy="-19" rx="12.5" ry="8.5" fill="#4a5a32"/>
<ellipse cx="0" cy="-21" rx="7" ry="4.5" fill="#6a7a44"/>
</g>
<g fill="none" stroke="#352828" stroke-width="1.6">
<path d="M218 515.4 C196 507 197 488 216 484"/>
<path d="M356 481.5 C378 488 376 508 358 513"/>
<path d="M394.5 514 C374 506 376 486 394 481"/>
<path d="M532.4 479 C554 486 552 506 533 511"/>
<path d="M572.5 513 C552 505 554 485 572 481"/>
<path d="M710 478.4 C732 485 730 505 712 511"/>
</g>
<g fill="#352828">
<path d="M222 481.5 L214 480 L217 488Z"/>
<path d="M352 514 L360 508 L361 516Z"/>
<path d="M399 479 L391 478 L394 486Z"/>
<path d="M528 512 L536 506 L537 514Z"/>
<path d="M577 479.5 L569 478 L572 486Z"/>
<path d="M706 512.5 L714 506 L715 514Z"/>
</g>

<path d="M50 553.2 H633" stroke="#3a2a2a" stroke-width="1.3" marker-end="url(#ah)"/>
<text font-size="9.8" fill="#1e1e1e"><tspan x="21.8" y="551">10. Crop rotation when cereals and legumes are</tspan><tspan x="21.8" y="561">grown in adjacent plots</tspan></text>

<rect x="0" y="571.2" width="387.8" height="20.5" fill="#10684a"/>
<text font-size="21" fill="#fff" x="36" y="590">72</text>
<text font-size="21" fill="#fff" x="340.2" y="590">5.25</text>

<text font-size="9.8" fill="#333" text-anchor="end"><tspan x="684.2" y="578.4">Manish N. Raizada, Ph.D.; Lisa Smith, Illustrator</tspan><tspan x="684.2" y="591.3" font-size="10.1">SAK Picture Book • Creative Commons</tspan></text>

</svg>
</body></html>
